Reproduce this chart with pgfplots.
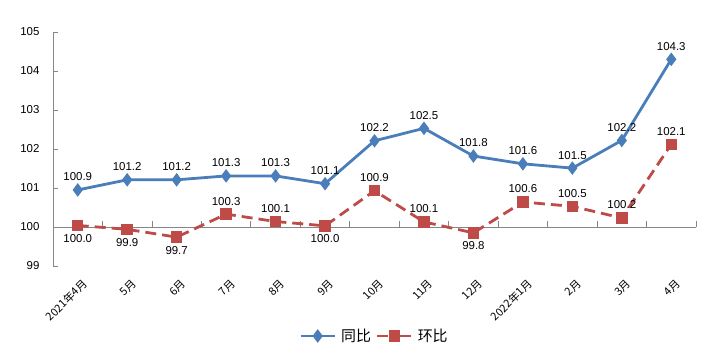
\documentclass[border=0pt]{standalone}
\usepackage{pgfplots}
\pgfplotsset{compat=1.18}
\usepackage{pgfplotstable}
\usepackage{fontspec}
\setmainfont{Liberation Sans}
\newfontfamily\cjk{Noto Sans CJK SC}
\definecolor{tbblue}{HTML}{4A7EBB}
\definecolor{hbred}{HTML}{BE4B48}
\definecolor{axgray}{HTML}{868686}

\pgfplotstableread{
x y lab dir
0 100.95 100.9 1
1 101.21 101.2 1
2 101.21 101.2 1
3 101.31 101.3 1
4 101.31 101.3 1
5 101.11 101.1 1
6 102.21 102.2 1
7 102.53 102.5 1
8 101.82 101.8 1
9 101.62 101.6 1
10 101.51 101.5 1
11 102.22 102.2 1
12 104.30 104.3 1
}\tongbi

\pgfplotstableread{
x y lab dir
0 100.04 100.0 -1
1 99.94 99.9 -1
2 99.74 99.7 -1
3 100.33 100.3 1
4 100.14 100.1 1
5 100.03 100.0 -1
6 100.93 100.9 1
7 100.13 100.1 1
8 99.85 99.8 -1
9 100.64 100.6 1
10 100.53 100.5 1
11 100.23 100.2 1
12 102.12 102.1 1
}\huanbi

\begin{document}
\begin{tikzpicture}
\useasboundingbox (-53bp,-96bp) rectangle (661bp,266bp);
\begin{axis}[
  scale only axis,
  width=643bp, height=234bp,
  xmin=-0.5, xmax=12.5,
  ymin=99, ymax=105,
  ytick={99,100,...,105},
  axis y line*=left,
  axis x line*=bottom,
  x axis line style={draw=none},
  y axis line style={draw=axgray, line width=0.8pt},
  ytick style={draw=axgray, line width=0.8pt},
  xtick style={draw=none},
  tick align=inside,
  major tick length=5bp,
  xtick={0,...,12},
  xticklabels={2021年4月,5月,6月,7月,8月,9月,10月,11月,12月,2022年1月,2月,3月,4月},
  xticklabel style={rotate=45, anchor=north east, font=\cjk\fontsize{11}{13}\selectfont, inner sep=1bp, yshift=-10bp, xshift=-5bp},
  yticklabel style={font=\fontsize{11.5}{13}\selectfont, xshift=-10bp},
  /pgf/number format/assume math mode=true,
  clip=false,
  legend columns=2,
  legend style={draw=none, at={(0.5,-0.299)}, anchor=center, font={\cjk\fontsize{15}{17}\selectfont}, column sep=3bp, inner sep=1bp, nodes={inner sep=2bp}},
  legend image code/.code={\draw[mark repeat=2,mark phase=2,#1] plot coordinates {(0bp,0bp) (17bp,0bp) (34bp,0bp)};},
]
\draw[axgray, line width=0.8pt] (axis cs:-0.5,100) -- (axis cs:12.5,100);
\pgfplotsinvokeforeach{0.5,1.5,...,12.5}{\draw[axgray, line width=0.8pt] (axis cs:#1,100) -- (axis cs:#1,100.16);}
\addplot[tbblue, line width=2.8bp, mark=diamond*, mark size=4.5bp, mark options={fill=tbblue, solid},
  point meta=explicit symbolic, nodes near coords,
  visualization depends on={\thisrow{dir} \as \ldir},
  nodes near coords style={font=\fontsize{11.5}{13}\selectfont, inner sep=0pt, text=black, anchor=center, yshift=\ldir*13bp}]
  table[x=x, y=y, meta=lab] {\tongbi};
\addlegendentry{同比}
\addplot[hbred, line width=2.8bp, dash pattern=on 11bp off 6bp, mark=square*, mark size=4.3bp, mark options={fill=hbred, solid},
  legend image post style={dash pattern=on 11bp off 12bp},
  point meta=explicit symbolic, nodes near coords,
  visualization depends on={\thisrow{dir} \as \ldir},
  nodes near coords style={font=\fontsize{11.5}{13}\selectfont, inner sep=0pt, text=black, anchor=center, yshift=\ldir*13bp}]
  table[x=x, y=y, meta=lab] {\huanbi};
\addlegendentry{环比}
\end{axis}
\end{tikzpicture}
\end{document}
